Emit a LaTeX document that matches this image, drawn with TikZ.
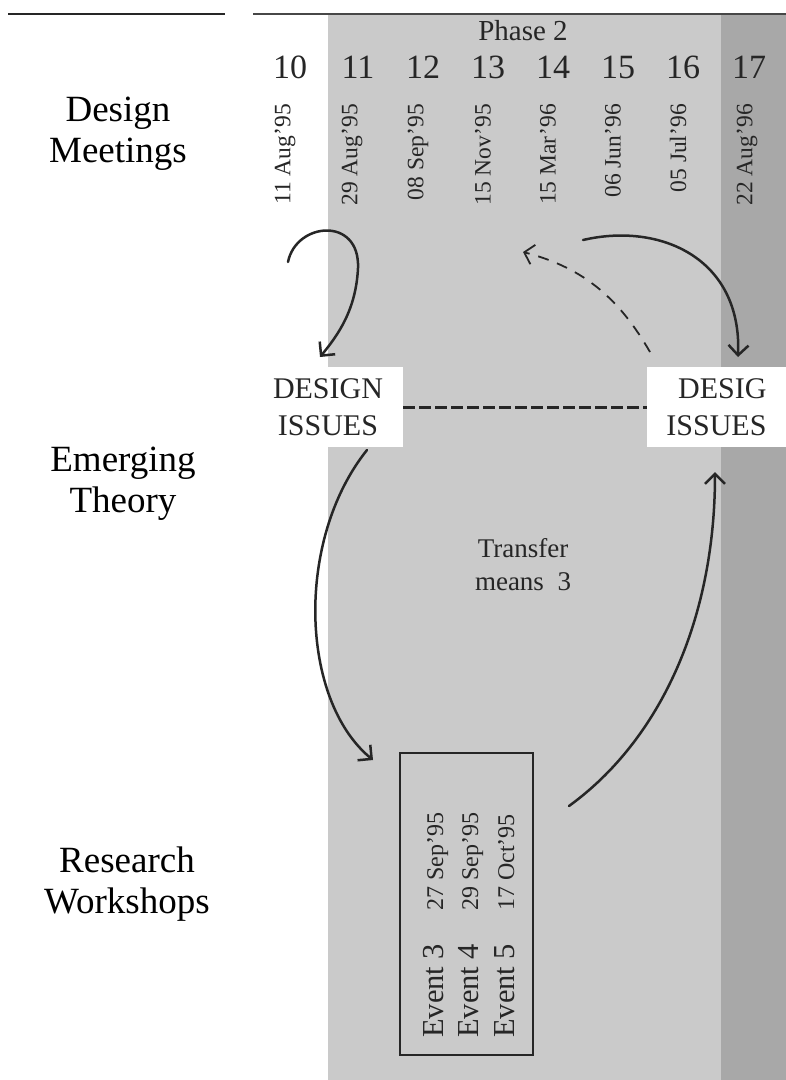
\documentclass[tikz,border=0pt]{standalone}
\usepackage{fontspec}
\setmainfont{Liberation Serif}
\usetikzlibrary{arrows.meta}
\definecolor{midgray}{RGB}{202,202,202}
\definecolor{darkstrip}{RGB}{168,168,168}
\definecolor{ink}{RGB}{38,38,38}
\begin{document}
\begin{tikzpicture}[x=1pt,y=-1pt,
  rowlabel/.style={align=center, text=black, inner sep=0pt, font=\fontsize{37}{41}\selectfont},
  colnum/.style={anchor=base, text=ink, inner sep=0pt, font=\fontsize{34}{40}\selectfont},
  datelab/.style={rotate=90, anchor=east, text=ink, inner sep=0pt, font=\fontsize{23.5}{28}\selectfont},
  issuebox/.style={fill=white, minimum height=80pt, inner sep=0pt, text=ink, font=\fontsize{30}{37}\selectfont},
  evtext/.style={rotate=90, anchor=base west, text=ink, inner sep=0pt, font=\fontsize{30.5}{36}\selectfont},
  evdate/.style={rotate=90, anchor=base west, text=ink, inner sep=0pt, font=\fontsize{24}{28}\selectfont},
  arr/.style={draw=ink, line width=2.5pt, line cap=round, -{Straight Barb[length=10pt,width=20pt]}},
  dasharr/.style={draw=ink, line width=1.8pt, dash pattern=on 11pt off 9pt, -{Straight Barb[length=9pt,width=20pt]}},
  dashline/.style={draw=ink, line width=3pt, dash pattern=on 12pt off 4pt}
]
\useasboundingbox (0,0) rectangle (786,1080);
\fill[white] (0,0) rectangle (786,1080);
% background bands
\fill[midgray] (328,14) rectangle (721,1080);
\fill[darkstrip] (721,14) rectangle (786,1080);
% top rules
\draw[line width=1.8pt, ink] (8,14) -- (225,14);
\draw[line width=1.5pt, ink!85] (253,14) -- (786,14);

% row labels
\node[rowlabel] (rl1) at (118,134) {Design\\Meetings};
\node[rowlabel] (rl2) at (123,484) {Emerging\\Theory};
\node[rowlabel] (rl3) at (127,884) {Research\\Workshops};

% phase header
\node[anchor=base, text=ink, inner sep=0pt, font=\fontsize{29}{34}\selectfont] (ph) at (523,40) {Phase 2};
\node[colnum] (n10) at (290,78) {10};
\node[colnum] (n11) at (358,78) {11};
\node[colnum] (n12) at (423,78) {12};
\node[colnum] (n13) at (488,78) {13};
\node[colnum] (n14) at (553,78) {14};
\node[colnum] (n15) at (618,78) {15};
\node[colnum] (n16) at (683,78) {16};
\node[colnum] (n17) at (749,78) {17};

% meeting dates
\node[datelab] (d10) at (285,104) {11 Aug'95};
\node[datelab] (d11) at (352,104) {29 Aug'95};
\node[datelab] (d12) at (418,104) {08 Sep'95};
\node[datelab] (d13) at (483,104) {15 Nov'95};
\node[datelab] (d14) at (548,104) {15 Mar'96};
\node[datelab] (d15) at (613,104) {06 Jun'96};
\node[datelab] (d16) at (678,104) {05 Jul'96};
\node[datelab] (d17) at (747,104) {22 Aug'96};

% design issues boxes
\node[issuebox, minimum width=150pt, align=center] (dl) at (328,407) {DESIGN\\ISSUES};
\node[issuebox, minimum width=139pt, align=right] (dr) at (716.5,407) {DESIG\\ISSUES};
\draw[dashline] (dl.east) -- (dr.west);

% transfer text
\node[align=center, text=ink, inner sep=0pt, font=\fontsize{27}{33}\selectfont] (tm) at (523,565) {Transfer\\means~~3};

% events box
\node[draw=ink, line width=1.1pt, minimum width=133pt, minimum height=302pt, inner sep=0pt] (ev) at (466.5,904) {};
\node[evtext] (e3) at (443,1038) {Event 3};
\node[evtext] (e4) at (478,1038) {Event 4};
\node[evtext] (e5) at (514,1038) {Event 5};
\node[evdate] (e3d) at (443,911) {27 Sep'95};
\node[evdate] (e4d) at (478,911) {29 Sep'95};
\node[evdate] (e5d) at (514,911) {17 Oct'95};

% arrow end points
\coordinate (a1s) at (288,262);
\coordinate (a1e) at (320,357);
\coordinate (a2s) at (650,352);
\coordinate (a2e) at (523,252);
\coordinate (a3s) at (583,240);
\coordinate (a3e) at (738,357);
\coordinate (a4s) at (367,450);
\coordinate (a4e) at (373,760);
\coordinate (a5s) at (569,806);
\coordinate (a5e) at (715,472);

\draw[arr] (a1s) .. controls (296,222) and (360,216) .. (358,268) .. controls (356,310) and (338,335) .. (a1e);
\draw[dasharr] (a2s) .. controls (620,300) and (585,268) .. (a2e);
\draw[arr] (a3s) .. controls (660,222) and (742,258) .. (a3e);
\draw[arr] (a4s) .. controls (295,540) and (300,700) .. (a4e);
\draw[arr] (a5s) .. controls (660,740) and (715,620) .. (a5e);
\end{tikzpicture}
\end{document}
